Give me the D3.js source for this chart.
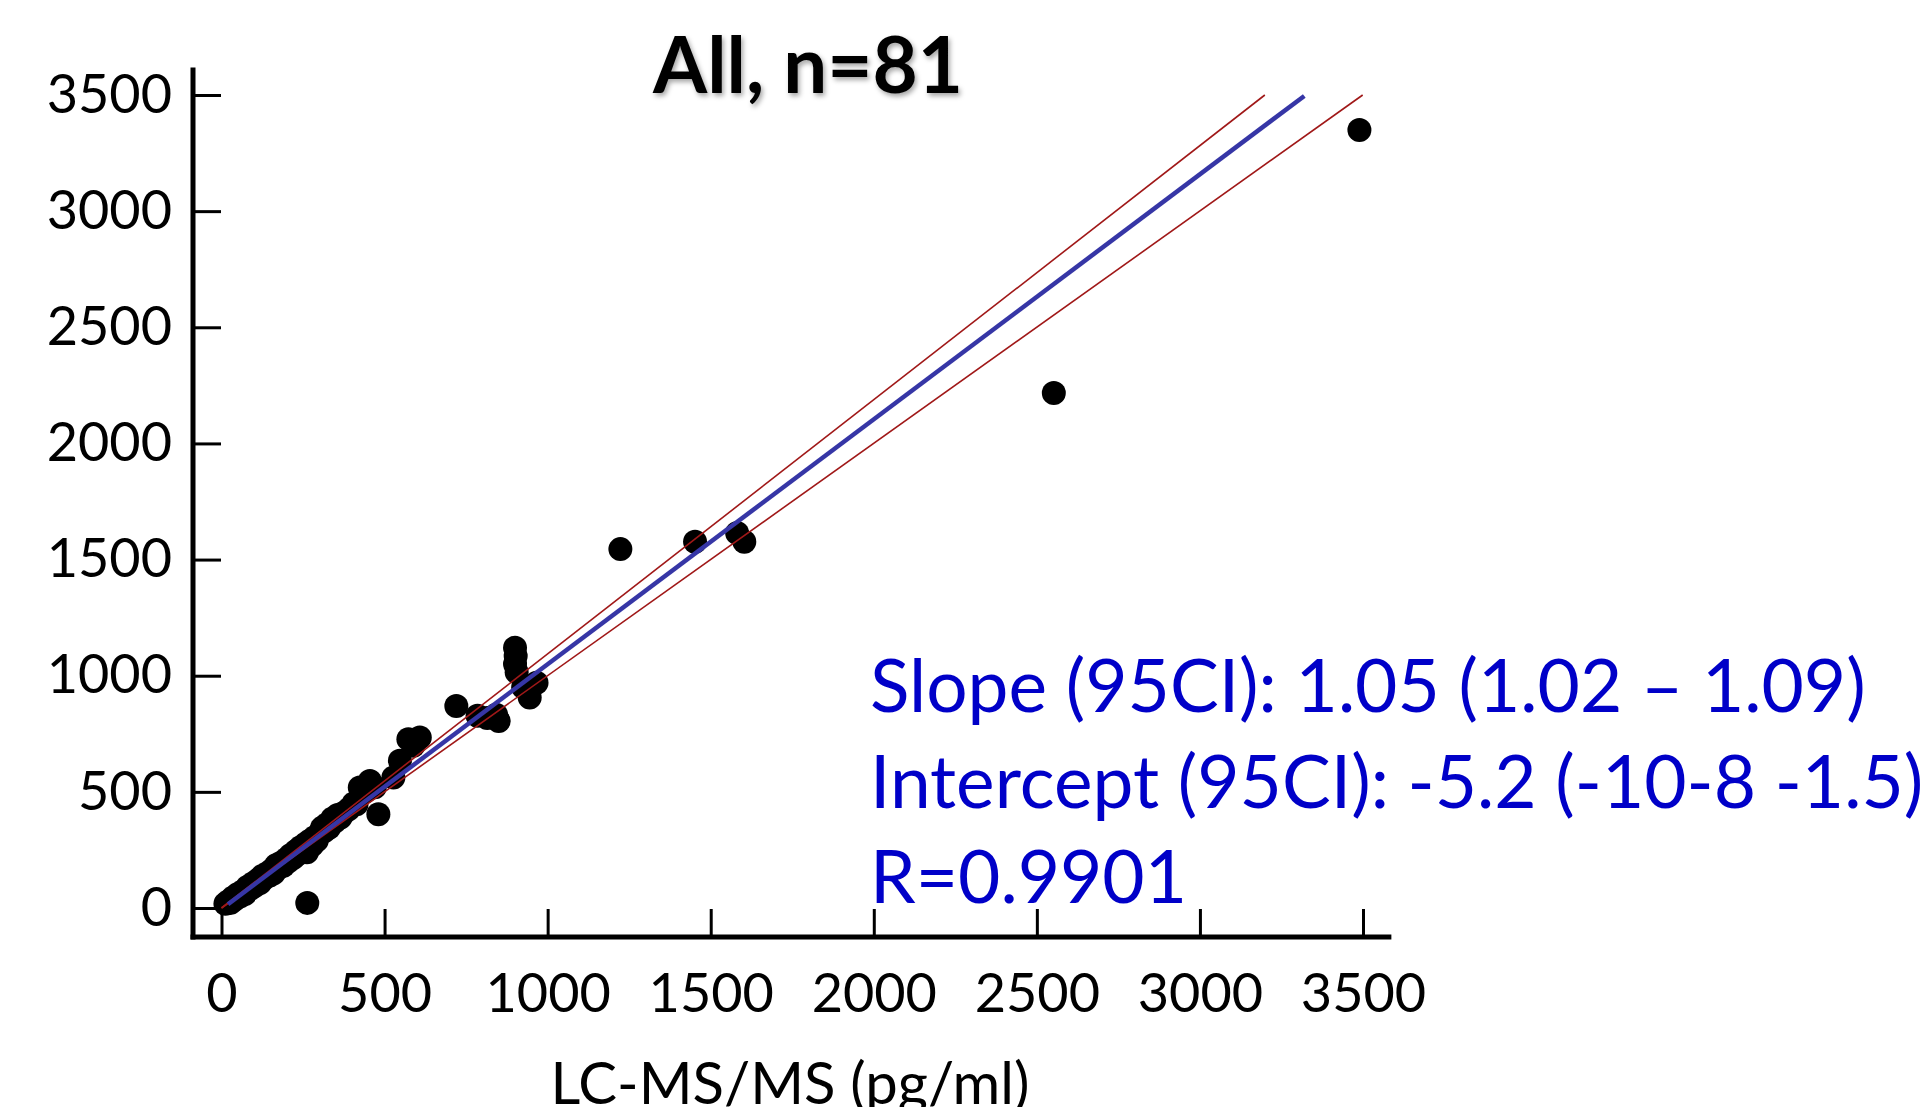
<!DOCTYPE html>
<html>
<head>
<meta charset="utf-8">
<script src="https://cdn.jsdelivr.net/npm/d3@7"></script>
<style>
  html, body { margin: 0; padding: 0; background: #fff; }
  svg { display: block; font-family: Lato, "Open Sans", sans-serif; }
</style>
</head>
<body>
<svg id="chart" width="1926" height="1107"></svg>
<script>
// LC-MS/MS (x) vs assay (y), pg/ml
const lcms = [
  12, 20, 28, 35, 42, 50, 58, 65, 72, 80, 88, 95, 102, 110, 118, 125, 132, 140, 148, 155,
  160, 168, 175, 182, 190, 198, 205, 212, 220, 228, 235, 242, 250, 256, 262, 270, 278, 285, 292, 300,
  308, 315, 322, 330, 340, 348, 356, 365, 375, 390, 405, 414, 424, 440, 455, 470, 481,
  263,
  573, 608, 588, 547, 527, 720, 785, 815, 850, 842, 900, 902, 900, 905, 925, 945, 966,
  1223, 1452, 1581, 1603, 2552, 3489
];
const assay = [
  18, 28, 22, 45, 38, 60, 50, 72, 60, 92, 82, 105, 95, 120, 108, 138, 128, 150, 140, 165,
  150, 185, 172, 195, 182, 210, 200, 228, 215, 245, 232, 262, 250, 275, 240, 290, 270, 305, 290, 320,
  345, 330, 360, 345, 385, 372, 400, 390, 410, 425, 450, 447, 519, 500, 547, 520, 404,
  22,
  727, 734, 698, 634, 562, 870, 828, 818, 805, 832, 1120, 1085, 1050, 1015, 950, 906, 970,
  1545, 1577, 1614, 1577, 2217, 3349
];

// fitted line and its band, end points
const regLine  = [[20, 16], [3320, 3496]];
const ciUpper  = [[0, 0], [3199, 3500]];
const ciLower  = [[0, 0], [3499, 3500]];

const xTicks = [0, 500, 1000, 1500, 2000, 2500, 3000, 3500];
const yTicks = [0, 500, 1000, 1500, 2000, 2500, 3000, 3500];

const titleText = 'All, n=81';
const xLabel = 'LC-MS/MS (pg/ml)';
const statLines = [
  'Slope (95CI): 1.05 (1.02 \u2013 1.09)',
  'Intercept (95CI): -5.2 (-10-8 -1.5)',
  'R=0.9901'
];

const svg = d3.select('#chart');

const x = d3.scaleLinear().domain([0, 3500]).range([221.5, 1363]);
const y = d3.scaleLinear().domain([0, 3500]).range([908, 95]);

// soft shadow for the title
const defs = svg.append('defs');
defs.append('filter')
  .attr('id', 'shadow')
  .attr('x', '-10%').attr('y', '-20%').attr('width', '120%').attr('height', '150%')
  .append('feDropShadow')
  .attr('dx', 2).attr('dy', 3).attr('stdDeviation', 2.5)
  .attr('flood-color', '#000').attr('flood-opacity', 0.35);

// axes: ticks point inward, labels outside
const axisX0 = 193, axisY0 = 937;

const gy = svg.append('g')
  .attr('transform', `translate(${axisX0},0)`)
  .call(d3.axisLeft(y).tickValues(yTicks).tickSize(-28).tickPadding(21).tickFormat(d3.format('d')));
gy.select('.domain').remove();
gy.selectAll('.tick line').attr('stroke', '#000').attr('stroke-width', 3);
gy.selectAll('.tick text')
  .attr('fill', '#000')
  .style('font-size', '54px')
  .style('font-family', 'Lato, sans-serif');

const gx = svg.append('g')
  .attr('transform', `translate(0,${axisY0})`)
  .call(d3.axisBottom(x).tickValues(xTicks).tickSize(-28).tickPadding(37).tickFormat(d3.format('d')));
gx.select('.domain').remove();
gx.selectAll('.tick line').attr('stroke', '#000').attr('stroke-width', 3);
gx.selectAll('.tick text')
  .attr('fill', '#000')
  .style('font-size', '54px')
  .style('font-family', 'Lato, sans-serif');

// thick axis lines
svg.append('line')
  .attr('x1', axisX0).attr('x2', axisX0)
  .attr('y1', y(3618)).attr('y2', axisY0 + 2.5)
  .attr('stroke', '#000').attr('stroke-width', 5);
svg.append('line')
  .attr('x1', axisX0 - 2.5).attr('x2', x(3587))
  .attr('y1', axisY0).attr('y2', axisY0)
  .attr('stroke', '#000').attr('stroke-width', 5);

// points
svg.append('g')
  .selectAll('circle')
  .data(d3.range(lcms.length))
  .join('circle')
    .attr('cx', i => x(lcms[i]))
    .attr('cy', i => y(assay[i]))
    .attr('r', 12)
    .attr('fill', '#000');

// regression line + band
const line = d3.line().x(d => x(d[0])).y(d => y(d[1]));

svg.append('path').datum(ciUpper)
  .attr('d', line).attr('fill', 'none')
  .attr('stroke', '#a01818').attr('stroke-width', 1.6);
svg.append('path').datum(ciLower)
  .attr('d', line).attr('fill', 'none')
  .attr('stroke', '#a01818').attr('stroke-width', 1.6);
svg.append('path').datum(regLine)
  .attr('d', line).attr('fill', 'none')
  .attr('stroke', '#3636a6').attr('stroke-width', 4.5);

// title
svg.append('text')
  .attr('x', 808).attr('y', 93)
  .attr('text-anchor', 'middle')
  .attr('filter', 'url(#shadow)')
  .style('font-size', '78px')
  .style('font-weight', 'bold')
  .attr('fill', '#000')
  .text(titleText);

// x axis title (cut by the bottom edge, as in the source)
svg.append('text')
  .attr('x', 790).attr('y', 1104)
  .attr('text-anchor', 'middle')
  .style('font-size', '58px')
  .attr('fill', '#000')
  .text(xLabel);

// fit statistics
svg.append('g')
  .selectAll('text')
  .data(statLines)
  .join('text')
    .attr('x', 870)
    .attr('y', (d, i) => 712 + i * 95.5)
    .style('font-size', '73px')
    .attr('fill', '#0000c8')
    .text(d => d);
</script>
</body>
</html>
